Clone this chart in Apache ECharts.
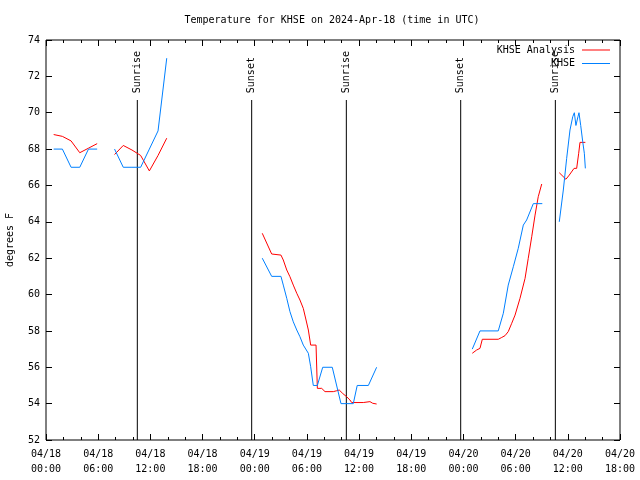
<!DOCTYPE html>
<html>
<head>
<meta charset="utf-8">
<script src="https://cdn.jsdelivr.net/npm/echarts@6/dist/echarts.min.js"></script>
<style>html,body{margin:0;padding:0;background:#fff}#c{width:640px;height:480px}</style>
</head>
<body>
<div id="c"></div>
<script>
// ---- data (UTC, "MM-DD HH:MM"; null marks a gap) ----
const analysisTimes = [
  '04-18 00:53','04-18 01:53','04-18 02:53','04-18 03:53','04-18 04:53','04-18 05:53', null,
  '04-18 07:53','04-18 08:53','04-18 09:53','04-18 10:53','04-18 11:53','04-18 12:53','04-18 13:53', null,
  '04-19 00:52','04-19 01:57','04-19 03:01','04-19 03:17','04-19 03:41','04-19 04:03','04-19 04:26','04-19 04:50',
  '04-19 05:12','04-19 05:35','04-19 05:54','04-19 06:10','04-19 06:26','04-19 07:03','04-19 07:12','04-19 07:42',
  '04-19 08:05','04-19 09:02','04-19 09:26','04-19 09:43','04-19 10:07','04-19 10:34','04-19 10:57','04-19 11:09',
  '04-19 12:29','04-19 12:41','04-19 13:15','04-19 13:34','04-19 14:01', null,
  '04-20 01:01','04-20 01:31','04-20 01:54','04-20 02:10','04-20 04:00','04-20 04:24','04-20 04:47','04-20 05:09',
  '04-20 05:33','04-20 05:56','04-20 06:30','04-20 07:05','04-20 07:27','04-20 07:51','04-20 08:14','04-20 08:36','04-20 09:00', null,
  '04-20 11:01','04-20 11:47','04-20 12:10','04-20 12:43','04-20 13:01','04-20 13:15','04-20 13:24','04-20 14:01'
];
const analysisTemps = [
  68.8,68.7,68.45,67.8,68.05,68.3, null,
  67.7,68.2,67.95,67.65,66.8,67.65,68.6, null,
  63.37,62.23,62.17,61.9,61.35,60.98,60.52,60.07,
  59.7,59.24,58.6,58.05,57.22,57.22,54.84,54.84,
  54.66,54.66,54.71,54.75,54.56,54.38,54.2,54.06,
  54.06,54.11,54.11,54.02,53.98, null,
  56.77,56.95,57.04,57.54,57.54,57.64,57.74,57.96,
  58.42,58.87,59.79,60.89,61.99,63.18,64.37,65.38,66.08, null,
  66.7,66.34,66.57,66.94,66.94,67.77,68.37,68.37
];
const obsTimes = [
  '04-18 00:53','04-18 01:53','04-18 02:53','04-18 03:53','04-18 04:53','04-18 05:53', null,
  '04-18 07:53','04-18 08:53','04-18 09:53','04-18 10:53','04-18 11:53','04-18 12:53','04-18 13:53', null,
  '04-19 00:52','04-19 01:57','04-19 03:01','04-19 03:17','04-19 03:41','04-19 04:03','04-19 04:26','04-19 04:50',
  '04-19 05:12','04-19 05:35','04-19 06:10','04-19 06:26','04-19 06:44','04-19 07:12','04-19 07:49','04-19 08:55',
  '04-19 09:55','04-19 11:20','04-19 11:47','04-19 13:04','04-19 14:01', null,
  '04-20 01:01','04-20 01:54','04-20 04:00','04-20 04:35','04-20 05:09','04-20 05:44','04-20 06:18','04-20 06:53',
  '04-20 07:16','04-20 08:02','04-20 09:04', null,
  '04-20 11:01','04-20 11:29','04-20 11:52','04-20 12:15','04-20 12:34','04-20 12:45','04-20 12:56','04-20 13:10',
  '04-20 13:17','04-20 13:29','04-20 13:43','04-20 13:54','04-20 14:01'
];
const obsTemps = [
  68,68,67,67,68,68, null,
  68,67,67,67,68,69,73, null,
  62,61,61,60.52,59.79,59.06,58.5,58.05,
  57.68,57.22,56.77,56.03,55,55,56,56,
  54,54,55,55,56, null,
  57,58,58,58.97,60.52,61.53,62.54,63.82,
  64.1,65,65, null,
  64,65.75,67.49,69.05,69.78,70,69.3,69.78,
  70,69.3,68.4,67.77,66.94
];
const eventTimes = ['04-18 10:30','04-18 23:39','04-19 10:32','04-19 23:41','04-20 10:34'];
const eventLabels = ['Sunrise','Sunset','Sunrise','Sunset','Sunrise'];
const seriesNames = ['KHSE Analysis','KHSE'];
const titleText = 'Temperature for KHSE on 2024-Apr-18 (time in UTC)';
const yName = 'degrees F';

// ---- helpers ----
const H = 3600000;
function parseT(s){
  const m = s.match(/(\d+)-(\d+) (\d+):(\d+)/);
  return Date.UTC(2024, +m[1]-1, +m[2], +m[3], +m[4]);
}
function pairs(ts, vs){
  return ts.map((t,i)=> t===null ? [NaN,'-'] : [parseT(t), vs[i]]);
}
function pad(n){return (n<10?'0':'')+n;}
const xMin = Date.UTC(2024,3,18,0,0), xMax = xMin + 66*H;
const yMin = 52, yMax = 74;
const FONT = 'DejaVu Sans Mono';

const chart = echarts.init(document.getElementById('c'), null, {renderer:'canvas'});
const xBase = {
  type:'value', min:xMin, max:xMax, interval:6*H,
  splitLine:{show:false},
  axisLine:{show:false},
  axisTick:{inside:true, length:6, lineStyle:{color:'#000'}},
  minorTick:{show:true, splitNumber:3, length:3, lineStyle:{color:'#000'}},
};
const yBase = {
  type:'value', min:yMin, max:yMax, interval:2,
  splitLine:{show:false},
  axisLine:{show:false},
  axisTick:{inside:true, length:6, lineStyle:{color:'#000'}},
};
chart.setOption({
  animation:false,
  backgroundColor:'#fff',
  textStyle:{fontFamily:FONT},
  title:{text:titleText, left:332, top:15, padding:0, textAlign:'center',
    textStyle:{fontFamily:FONT, fontSize:10, fontWeight:'normal', color:'#000'}},
  grid:{left:46, right:20, top:40, bottom:40, containLabel:false, outerBoundsMode:'none',
    show:true, borderColor:'#000', borderWidth:1, backgroundColor:'transparent'},
  legend:{
    orient:'vertical', right:30, top:44, padding:0, align:'right', itemWidth:28, itemHeight:1, itemGap:1.5,
    icon:'rect',
    textStyle:{fontFamily:FONT, fontSize:10, color:'#000', lineHeight:12, padding:[0,2,0,0]},
    data:seriesNames
  },
  xAxis:[
    Object.assign({}, xBase, {position:'bottom',
      axisLabel:{fontFamily:FONT, fontSize:10, color:'#000', margin:7, lineHeight:15,
        formatter:function(v){const d=new Date(v);return pad(d.getUTCMonth()+1)+'/'+pad(d.getUTCDate())+'\n'+pad(d.getUTCHours())+':'+pad(d.getUTCMinutes());}}}),
    Object.assign({}, xBase, {position:'top', axisLabel:{show:false}})
  ],
  yAxis:[
    Object.assign({}, yBase, {position:'left', name:yName, nameLocation:'middle', nameGap:31, nameRotate:90,
      nameTextStyle:{fontFamily:FONT, fontSize:10, color:'#000'},
      axisLabel:{fontFamily:FONT, fontSize:10, color:'#000', margin:6}}),
    Object.assign({}, yBase, {position:'right', axisLabel:{show:false}})
  ],
  series:[
    {name:seriesNames[0], type:'line', data:pairs(analysisTimes, analysisTemps), showSymbol:false, symbol:'none',
      connectNulls:false, color:'#ff0000', lineStyle:{width:1, color:'#ff0000'}, z:3},
    {name:seriesNames[1], type:'line', data:pairs(obsTimes, obsTemps), showSymbol:false, symbol:'none',
      connectNulls:false, color:'#0080ff', lineStyle:{width:1, color:'#0080ff'}, z:4},
    {name:'events', type:'custom', data:eventTimes.map(parseT).map(t=>[t]), encode:{x:0}, clip:false, z:2,
      renderItem:function(params, api){
        const t = api.value(0);
        const p0 = api.coord([t, yMin]);
        const p1 = api.coord([t, yMin + 0.85*(yMax-yMin)]);
        const p2 = api.coord([t, yMin + 0.867*(yMax-yMin)]);
        return {type:'group', children:[
          {type:'line', shape:{x1:p0[0], y1:p0[1], x2:p1[0], y2:p1[1]}, style:{stroke:'#000', lineWidth:1}},
          {type:'text', x:p2[0], y:p2[1], rotation:Math.PI/2,
            style:{text:eventLabels[params.dataIndex], fill:'#000', font:'10px "DejaVu Sans Mono"', textAlign:'left', textVerticalAlign:'middle'}}
        ]};
      }}
  ]
});
</script>
</body>
</html>
